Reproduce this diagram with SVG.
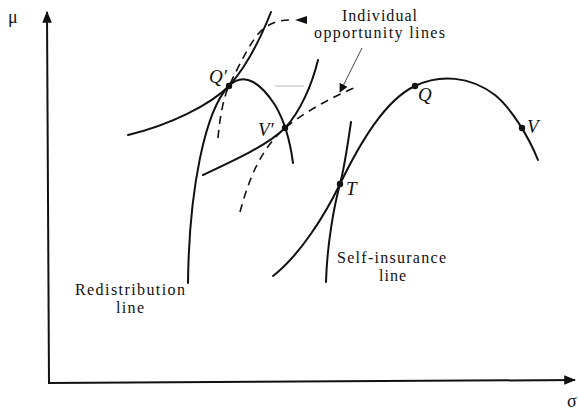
<svg xmlns="http://www.w3.org/2000/svg" width="579" height="410" viewBox="0 0 579 410">
<style>
.c{fill:none;stroke:#111;stroke-width:2;stroke-linecap:round}
.d{fill:none;stroke:#111;stroke-width:1.6;stroke-dasharray:8,6}
.ax{fill:none;stroke:#111;stroke-width:2}
.t{font-family:"Liberation Serif","Times New Roman",serif;font-size:16px;fill:#111}
.g{font-family:"Liberation Serif","Times New Roman",serif;font-size:18px;fill:#111}
.pt{font-family:"Liberation Serif","Times New Roman",serif;font-size:19px;font-style:italic;fill:#111}
.dot{fill:#111}
</style>
<defs>
<marker id="ah" viewBox="0 0 10 10" refX="9" refY="5" markerWidth="9" markerHeight="9" markerUnits="userSpaceOnUse" orient="auto">
<path d="M0,0 L10,5 L0,10 z" fill="#111"/>
</marker>
<marker id="axh" viewBox="0 0 10 10" refX="9" refY="5" markerWidth="12" markerHeight="12" markerUnits="userSpaceOnUse" orient="auto">
<path d="M0,1 L10,5 L0,9 z" fill="#111"/>
</marker>
</defs>
<g id="axes">
<line class="ax" x1="49" y1="383" x2="47" y2="12" marker-end="url(#axh)"/>
<line class="ax" x1="48" y1="383" x2="575" y2="380" marker-end="url(#axh)"/>
<text class="g" x="8" y="23">μ</text>
<text class="g" x="567" y="407">σ</text>
</g>
<g id="connectors">
<line x1="275" y1="86" x2="304" y2="86" stroke="#bbb" stroke-width="1"/>
<line x1="362" y1="48" x2="340" y2="92" stroke="#444" stroke-width="1" marker-end="url(#ah)"/>
<path d="M307,16 L295,20 L307,24 z" fill="#111"/>
</g>
<g id="redistribution-line">
<path class="c" d="M188,283 C189,190 205,110 229,86 C245,70 262,85 275,105 C284,120 290,140 293,163"/>
</g>
<g id="indifference-Qprime">
<path class="c" d="M128,135 C170,125 210,105 229,86 C245,68 260,40 271,12"/>
</g>
<g id="indifference-Vprime">
<path class="c" d="M203,175 C235,160 268,145 285,128 C300,112 312,85 318,60"/>
</g>
<g id="opportunity-Qprime">
<path class="d" d="M218,138 C220,115 224,96 229,86 C234,76 244,54 255,38 C265,24 277,20 290,20"/>
</g>
<g id="opportunity-Vprime">
<path class="d" d="M240,212 C250,175 262,148 285,128 C305,112 330,98 354,88"/>
</g>
<g id="self-insurance-line">
<path class="c" d="M273,276 C300,255 325,215 340,184 C360,143 385,100 415,86 C440,74 470,76 495,95 C510,107 528,135 538,160"/>
</g>
<g id="indifference-T">
<path class="c" d="M326,282 C327,245 334,206 340,184 C345,165 348,142 351,122"/>
</g>
<g id="points">
<circle class="dot" cx="229" cy="86" r="3.2"/>
<circle class="dot" cx="285" cy="128" r="3.2"/>
<circle class="dot" cx="340" cy="184" r="3.2"/>
<circle class="dot" cx="415" cy="86" r="3.2"/>
<circle class="dot" cx="522" cy="128" r="3.2"/>
<text class="pt" x="209" y="83">Q′</text>
<text class="pt" x="258" y="136">V′</text>
<text class="pt" x="346" y="195">T</text>
<text class="pt" x="418" y="101">Q</text>
<text class="pt" x="527" y="133">V</text>
</g>
<g id="labels">
<text class="t" x="342" y="21" textLength="75" lengthAdjust="spacing">Individual</text>
<text class="t" x="314" y="38" textLength="131" lengthAdjust="spacing">opportunity lines</text>
<text class="t" x="75" y="295" textLength="110" lengthAdjust="spacing">Redistribution</text>
<text class="t" x="116" y="313" textLength="28" lengthAdjust="spacing">line</text>
<text class="t" x="337" y="263" textLength="109" lengthAdjust="spacing">Self-insurance</text>
<text class="t" x="379" y="281" textLength="27" lengthAdjust="spacing">line</text>
</g>
</svg>
